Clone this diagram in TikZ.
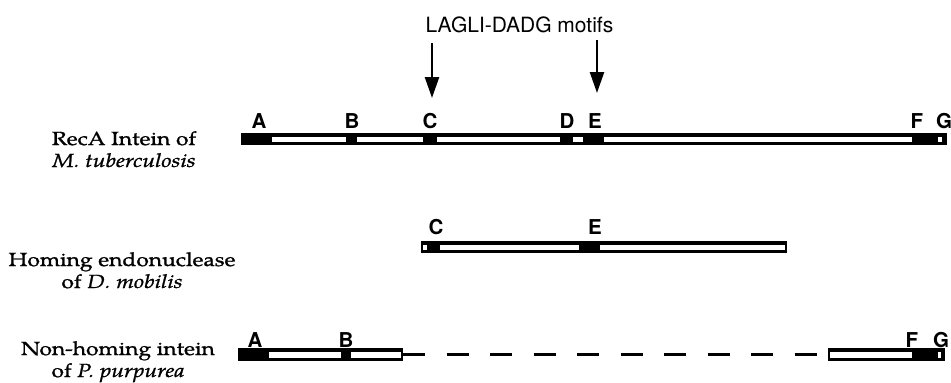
\documentclass[tikz,border=0pt]{standalone}
\usepackage{fontspec}
\usetikzlibrary{arrows.meta}
\newfontfamily\orgfont{TeX Gyre Pagella}[FakeStretch=1.2, FakeBold=1.2]
\newfontfamily\motiffont{TeX Gyre Heros}
\begin{document}
\begin{tikzpicture}[x=1pt,y=-1pt,
  orglabel/.style={font=\orgfont\fontsize{19}{22}\selectfont, align=center, anchor=base, inner sep=0pt},
  motif/.style={font=\motiffont\bfseries\fontsize{20.5}{20.5}\selectfont, anchor=base, inner sep=0pt},
  segbar/.style={fill=black, draw=none, inner sep=0pt, outer sep=0pt, anchor=north west},
  gap/.style={fill=white},
  motifarrow/.style={line width=2.5pt, -{Triangle[length=21pt,width=14pt]}}]
\useasboundingbox (0,0) rectangle (951,383);

% heading and the two motif arrows
\node[font=\motiffont\fontsize{21}{21}\selectfont, anchor=base, inner sep=0pt] (title) at (519.5,32) {LAGLI-DADG motifs};
\coordinate (cTail) at (432,43);
\coordinate (cHead) at (432,98);
\coordinate (eTail) at (597,40);
\coordinate (eHead) at (597,93);
\draw[motifarrow] (cTail) -- (cHead);
\draw[motifarrow] (eTail) -- (eHead);

% organism names (anchored on the baseline of the second line)
\node[orglabel] (recaName) at (124,167) {RecA Intein of\\\textit{M. tuberculosis}};
\node[orglabel] (homName) at (122,288) {Homing endonuclease\\of \textit{D. mobilis}};
\node[orglabel] (nonName) at (118,377) {Non-homing intein\\of \textit{P. purpurea}};

% RecA intein of M. tuberculosis
\node[segbar, minimum width=706pt, minimum height=12pt] (recaBar) at (241,133) {};
\fill[gap] (272,137) rectangle (346,142);
\fill[gap] (357,137) rectangle (423,142);
\fill[gap] (437,137) rectangle (560,142);
\fill[gap] (573,137) rectangle (583,142);
\fill[gap] (604,137) rectangle (912,142);
\fill[gap] (938,137) rectangle (942,142);
\node[motif] (rA) at (259,128) {A};
\node[motif] (rB) at (352,128) {B};
\node[motif] (rC) at (430,128) {C};
\node[motif] (rD) at (567,128) {D};
\node[motif] (rE) at (595,128) {E};
\node[motif] (rF) at (917,128) {F};
\node[motif] (rG) at (944,128) {G};

% homing endonuclease of D. mobilis
\node[segbar, minimum width=366pt, minimum height=12pt] (homBar) at (421,241) {};
\fill[gap] (423,245) rectangle (427,250);
\fill[gap] (440,245) rectangle (579,250);
\fill[gap] (600,245) rectangle (785,250);
\node[motif] (hC) at (436,234) {C};
\node[motif] (hE) at (595,234) {E};

% non-homing intein of P. purpurea
\node[segbar, minimum width=165pt, minimum height=13pt] (nLeft) at (238,348) {};
\fill[gap] (269,352) rectangle (341,358);
\fill[gap] (351,352) rectangle (401,358);
\node[segbar, minimum width=117pt, minimum height=13pt] (nRight) at (828,348) {};
\fill[gap] (830,352) rectangle (912,358);
\fill[gap] (938,352) rectangle (941,358);
\draw[line width=3pt, dash pattern=on 22pt off 21.5pt] (nLeft.east) -- (nRight.west);
\node[motif] (nA) at (255,347) {A};
\node[motif] (nB) at (346,347) {B};
\node[motif] (nF) at (912,347) {F};
\node[motif] (nG) at (941,347) {G};
\end{tikzpicture}
\end{document}
